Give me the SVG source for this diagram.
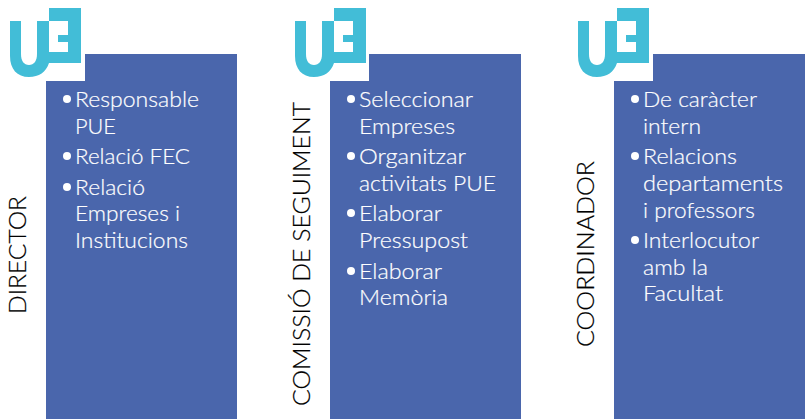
<svg xmlns="http://www.w3.org/2000/svg" xmlns:xlink="http://www.w3.org/1999/xlink" width="808" height="419" viewBox="0 0 808 419">
<style>
.p{fill:#4a66ac}
.t{font-family:"Lato","Open Sans",sans-serif;font-size:22px;font-weight:300;fill:#fff;stroke:#fff;stroke-width:.2}
.v{font-family:"Lato","Open Sans",sans-serif;font-size:23px;font-weight:300;fill:#000;stroke:#000;stroke-width:.2}
.l{fill:#43bdd7}
</style>
<defs>
<filter id="soft" x="-5%" y="-5%" width="110%" height="110%"><feGaussianBlur stdDeviation="0.5"/></filter>
<g id="logo">
<path class="l" filter="url(#soft)" fill-rule="evenodd" d="M10 21H21V54C21 61 24 65 29 65C34 65 37 61 37 54V21H49V8H81V63H49C46 72 39 77 29 77C17 77 10 69 10 56ZM49 21V52H68V42H58V35H68V21Z"/>
</g>
</defs>
<rect width="808" height="419" fill="#fff"/>
<g id="node-director">
<path class="p" d="M85 54H237V419H46V81H85Z"/>
<use xlink:href="#logo" href="#logo"/>
<text class="v" transform="translate(26 314) rotate(-90)" textLength="118" lengthAdjust="spacingAndGlyphs">DIRECTOR</text>
<circle cx="67" cy="99" r="4" fill="#fff"/>
<text class="t" x="75" y="107" textLength="124" lengthAdjust="spacingAndGlyphs">Responsable</text>
<text class="t" x="75" y="134" textLength="41" lengthAdjust="spacingAndGlyphs">PUE</text>
<circle cx="67" cy="156" r="4" fill="#fff"/>
<text class="t" x="75" y="164" textLength="115" lengthAdjust="spacingAndGlyphs">Relació FEC</text>
<circle cx="67" cy="187" r="4" fill="#fff"/>
<text class="t" x="75" y="195" textLength="70" lengthAdjust="spacingAndGlyphs">Relació</text>
<text class="t" x="75" y="221" textLength="105" lengthAdjust="spacingAndGlyphs">Empreses i</text>
<text class="t" x="75" y="248" textLength="113" lengthAdjust="spacingAndGlyphs">Institucions</text>
</g>
<g id="node-comissio">
<path class="p" d="M369 54H521V419H330V81H369Z"/>
<use xlink:href="#logo" href="#logo" x="285"/>
<text class="v" transform="translate(310 406) rotate(-90)" textLength="304" lengthAdjust="spacingAndGlyphs">COMISSIÓ DE SEGUIMENT</text>
<circle cx="351" cy="99" r="4" fill="#fff"/>
<text class="t" x="359" y="107" textLength="114" lengthAdjust="spacingAndGlyphs">Seleccionar</text>
<text class="t" x="359" y="134" textLength="96" lengthAdjust="spacingAndGlyphs">Empreses</text>
<circle cx="351" cy="156" r="4" fill="#fff"/>
<text class="t" x="359" y="164" textLength="107" lengthAdjust="spacingAndGlyphs">Organitzar</text>
<text class="t" x="359" y="191" textLength="137" lengthAdjust="spacingAndGlyphs">activitats PUE</text>
<circle cx="351" cy="213" r="4" fill="#fff"/>
<text class="t" x="359" y="221" textLength="83" lengthAdjust="spacingAndGlyphs">Elaborar</text>
<text class="t" x="359" y="248" textLength="109" lengthAdjust="spacingAndGlyphs">Pressupost</text>
<circle cx="351" cy="271" r="4" fill="#fff"/>
<text class="t" x="359" y="279" textLength="83" lengthAdjust="spacingAndGlyphs">Elaborar</text>
<text class="t" x="359" y="305" textLength="89" lengthAdjust="spacingAndGlyphs">Memòria</text>
</g>
<g id="node-coordinador">
<path class="p" d="M653 54H805V419H614V81H653Z"/>
<use xlink:href="#logo" href="#logo" x="568"/>
<text class="v" transform="translate(594 347) rotate(-90)" textLength="186" lengthAdjust="spacingAndGlyphs">COORDINADOR</text>
<circle cx="635" cy="99" r="4" fill="#fff"/>
<text class="t" x="643" y="107" textLength="114" lengthAdjust="spacingAndGlyphs">De caràcter</text>
<text class="t" x="643" y="134" textLength="58" lengthAdjust="spacingAndGlyphs">intern</text>
<circle cx="635" cy="156" r="4" fill="#fff"/>
<text class="t" x="643" y="164" textLength="94" lengthAdjust="spacingAndGlyphs">Relacions</text>
<text class="t" x="643" y="191" textLength="140" lengthAdjust="spacingAndGlyphs">departaments</text>
<text class="t" x="643" y="218" textLength="112" lengthAdjust="spacingAndGlyphs">i professors</text>
<circle cx="635" cy="240" r="4" fill="#fff"/>
<text class="t" x="643" y="248" textLength="116" lengthAdjust="spacingAndGlyphs">Interlocutor</text>
<text class="t" x="643" y="275" textLength="65" lengthAdjust="spacingAndGlyphs">amb la</text>
<text class="t" x="643" y="301" textLength="80" lengthAdjust="spacingAndGlyphs">Facultat</text>
</g>
<g id="connectors"/>
</svg>
